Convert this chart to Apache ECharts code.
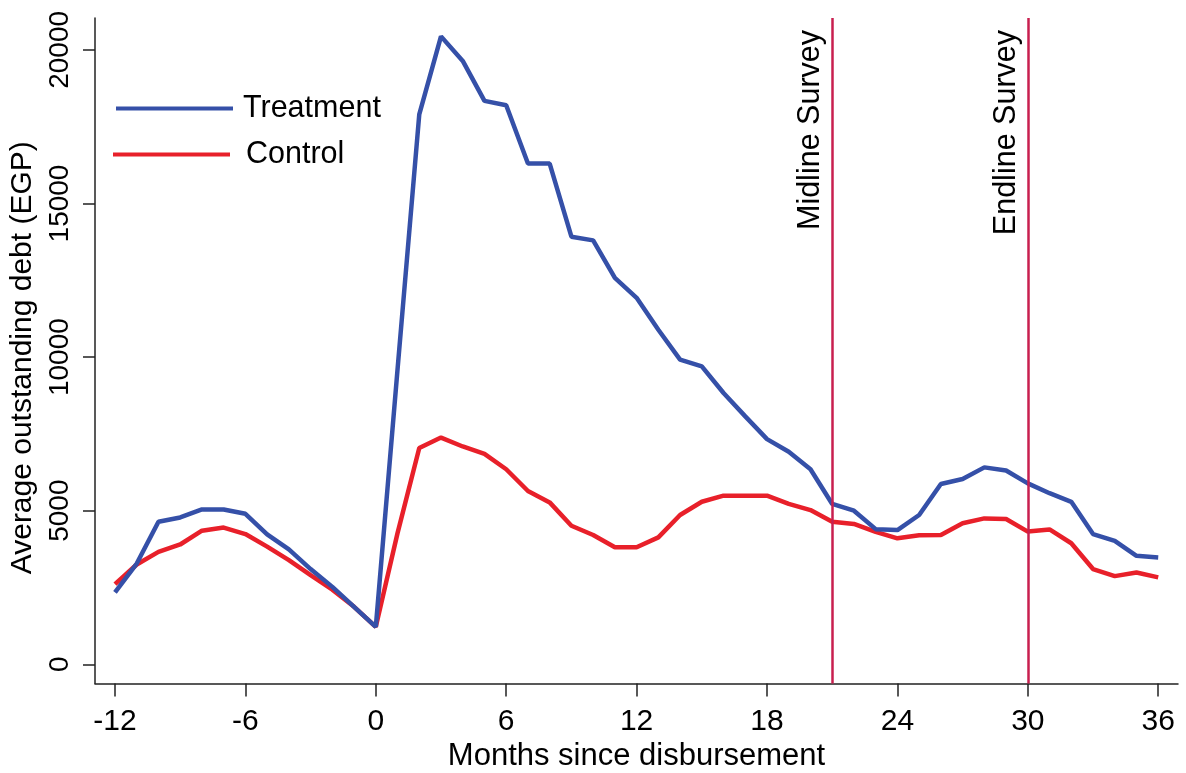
<!DOCTYPE html>
<html>
<head>
<meta charset="utf-8">
<script src="https://cdn.jsdelivr.net/npm/echarts@6/dist/echarts.min.js"></script>
<style>
html,body{margin:0;padding:0;background:#fff;}
#chart{width:1186px;height:773px;}
</style>
</head>
<body>
<div id="chart"></div>
<script>
const months = [-12,-11,-10,-9,-8,-7,-6,-5,-4,-3,-2,-1,0,1,2,3,4,5,6,7,8,9,10,11,12,13,14,15,16,17,18,19,20,21,22,23,24,25,26,27,28,29,30,31,32,33,34,35,36];
const treatment = [2340,3280,4640,4780,5040,5040,4900,4230,3740,3100,2520,1870,1220,9600,17900,20440,19640,18340,18200,16300,16300,13920,13800,12580,11930,10890,9920,9700,8830,8070,7330,6920,6350,5220,5000,4400,4370,4860,5870,6030,6410,6310,5890,5570,5290,4240,4020,3530,3480];
const control = [2610,3250,3660,3900,4350,4450,4240,3830,3390,2900,2430,1870,1220,4270,7040,7380,7090,6850,6350,5640,5270,4510,4210,3810,3810,4130,4860,5290,5490,5490,5490,5220,5020,4640,4570,4310,4100,4200,4210,4590,4750,4730,4320,4390,3940,3100,2870,2990,2830];
const xTicks = [-12,-6,0,6,12,18,24,30,36];
const yTicks = [0,5000,10000,15000,20000];
const surveyMonths = [21,30];
const surveyNames = ['Midline Survey','Endline Survey'];
const seriesNames = ['Treatment','Control'];

const FONT = "'Liberation Sans', Arial, sans-serif";
const chart = echarts.init(document.getElementById('chart'), null, {renderer:'canvas'});
const pair = arr => months.map((m,i)=>[m, arr[i]]);

chart.setOption({
  animation:false,
  backgroundColor:'#fff',
  textStyle:{fontFamily:FONT},
  grid:{left:95,right:8,top:18,bottom:89.5,containLabel:false,outerBoundsMode:'none'},
  legend:[
    {data:[seriesNames[0]],left:116,top:93,orient:'vertical',icon:'rect',itemWidth:117,itemHeight:4,itemGap:0,
     textStyle:{fontSize:30.5,color:'#000',fontFamily:FONT,lineHeight:30,padding:[0,0,0,5]},padding:0,selectedMode:false},
    {data:[seriesNames[1]],left:113,top:139,orient:'vertical',icon:'rect',itemWidth:117,itemHeight:4,itemGap:0,
     textStyle:{fontSize:30.5,color:'#000',fontFamily:FONT,lineHeight:30,padding:[0,0,0,11]},padding:0,selectedMode:false}
  ],
  xAxis:{
    type:'value',min:-12.92,max:36.91,
    name:'Months since disbursement',nameLocation:'middle',nameGap:53,
    nameTextStyle:{fontSize:31,color:'#000',fontFamily:FONT},
    axisLine:{show:true,onZero:false,lineStyle:{color:'#222',width:1.5}},
    axisTick:{show:true,length:13,customValues:xTicks,lineStyle:{color:'#222',width:1.5}},
    axisLabel:{customValues:xTicks,fontSize:30,color:'#000',margin:23,fontFamily:FONT,formatter:v=>String(v)},
    splitLine:{show:false}
  },
  yAxis:{
    type:'value',min:-625,max:21038,
    name:'Average outstanding debt (EGP)',nameLocation:'middle',nameGap:50,
    nameTextStyle:{fontSize:30,color:'#000',fontFamily:FONT,padding:[0,14,0,0]},
    axisLine:{show:true,onZero:false,lineStyle:{color:'#222',width:1.5}},
    axisTick:{show:true,length:12,customValues:yTicks,lineStyle:{color:'#222',width:1.5}},
    axisLabel:{customValues:yTicks,rotate:90,fontSize:28,color:'#000',margin:21,fontFamily:FONT,formatter:v=>String(v)},
    splitLine:{show:false}
  },
  series:[
    {name:seriesNames[0],type:'line',data:pair(treatment),showSymbol:false,symbol:'none',
     lineStyle:{color:'#3550a8',width:4.5},itemStyle:{color:'#3550a8'},z:3,
     markLine:{silent:true,symbol:'none',animation:false,
       lineStyle:{color:'#c81f4f',width:2.5,type:'solid'},
       label:{show:true,formatter:'{b}',position:'insideEndTop',fontSize:30.5,color:'#000',fontFamily:FONT,distance:[12,6]},
       data:surveyMonths.map((m,i)=>({xAxis:m,name:surveyNames[i]}))}},
    {name:seriesNames[1],type:'line',data:pair(control),showSymbol:false,symbol:'none',
     lineStyle:{color:'#e8202a',width:4.5},itemStyle:{color:'#e8202a'},z:2}
  ]
});
</script>
</body>
</html>
